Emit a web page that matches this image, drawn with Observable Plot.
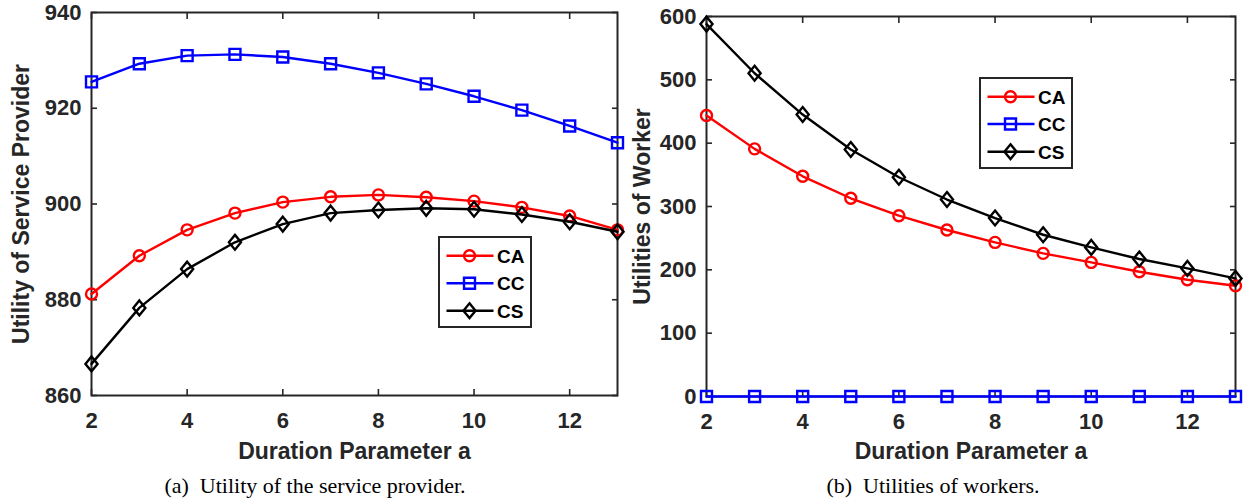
<!DOCTYPE html>
<html><head><meta charset="utf-8">
<script src="https://cdn.jsdelivr.net/npm/d3@7"></script>
<script src="https://cdn.jsdelivr.net/npm/@observablehq/plot@0.6"></script>
<style>
html,body{margin:0;padding:0;background:#fff;}
#wrap{position:relative;width:1247px;height:503px;overflow:hidden;background:#fff;}
.panel{position:absolute;top:0;}
.caption{position:absolute;font-family:'Liberation Serif','Times New Roman',serif;font-size:22px;color:#000;white-space:pre;transform:translate(-50%,-50%);}
.legend{position:absolute;}
</style></head><body><div id="wrap"></div>
<script>
// ---- data ----
const durations = [2, 3, 4, 5, 6, 7, 8, 9, 10, 11, 12, 13];
const seriesNames = ["CA", "CC", "CS"];
const seriesColors = ["#ff0000", "#0000ff", "#000000"];

const providerCA = [881.2, 889.2, 894.6, 898.1, 900.4, 901.5, 901.9, 901.4, 900.6, 899.3, 897.5, 894.6];
const providerCC = [925.5, 929.3, 931.0, 931.25, 930.7, 929.3, 927.4, 925.1, 922.5, 919.6, 916.3, 912.8];
const providerCS = [866.6, 878.3, 886.4, 892.0, 895.8, 898.1, 898.75, 899.1, 898.9, 897.8, 896.3, 894.2];

const workerCA = [443.6, 391.0, 347.7, 313.0, 285.5, 262.9, 243.3, 226.0, 211.7, 197.0, 184.4, 174.9];
const workerCC = [0, 0, 0, 0, 0, 0, 0, 0, 0, 0, 0, 0];
const workerCS = [588.0, 510.4, 445.2, 390.0, 346.2, 311.0, 281.8, 255.4, 235.4, 217.1, 202.2, 186.4];

const xTicks = [2, 4, 6, 8, 10, 12];
const providerTicks = [860, 880, 900, 920, 940];
const workerTicks = [0, 100, 200, 300, 400, 500, 600];

const xLabel = "Duration Parameter a";
const providerYLabel = "Utility of Service Provider";
const workerYLabel = "Utilities of Worker";
const captionA = "(a)  Utility of the service provider.";
const captionB = "(b)  Utilities of workers.";

// ---- helpers ----
const TXT = "#262626";
const FONT = "'Liberation Sans', Arial, Helvetica, sans-serif";
const LW = 2.4;

const diamond = {
  draw(ctx, size) {
    const r = Math.sqrt(size / Math.PI);
    ctx.moveTo(0, -r * 1.35);
    ctx.lineTo(r * 1.1, 0);
    ctx.lineTo(0, r * 1.35);
    ctx.lineTo(-r * 1.1, 0);
    ctx.closePath();
  }
};
const symbols = ["circle", "square", diamond];
const symbolR = [5.5, 6.2, 5.5];

function rowsOf(valuesList) {
  const rows = [];
  valuesList.forEach((vals, si) => {
    vals.forEach((v, i) => rows.push({a: durations[i], v, s: seriesNames[si]}));
  });
  return rows;
}

function panel({values, yDomain, yTicks, yLabel, width, mL, mR, mT, mB, yLabelDx, xLabelDy}) {
  const rows = rowsOf(values);
  const marks = [
    Plot.frame({stroke: TXT, strokeWidth: 2}),
    // inward ticks on all four sides
    Plot.axisX(xTicks, {anchor: "bottom", tickSize: -6, tickFormat: () => "", label: null, stroke: TXT, strokeWidth: 1.6}),
    Plot.axisX(xTicks, {anchor: "top", tickSize: -6, tickFormat: () => "", label: null, stroke: TXT, strokeWidth: 1.6}),
    Plot.axisY(yTicks, {anchor: "left", tickSize: -6, tickFormat: () => "", label: null, stroke: TXT, strokeWidth: 1.6}),
    Plot.axisY(yTicks, {anchor: "right", tickSize: -6, tickFormat: () => "", label: null, stroke: TXT, strokeWidth: 1.6}),
    // tick labels
    Plot.axisX(xTicks, {anchor: "bottom", tickSize: 0, tickPadding: 17, label: null, fontSize: 22, fontWeight: "bold", fill: TXT}),
    Plot.axisY(yTicks, {anchor: "left", tickSize: 0, tickPadding: 10, label: null, fontSize: 22, fontWeight: "bold", fill: TXT}),
    // axis titles
    Plot.text([xLabel], {frameAnchor: "bottom", dy: xLabelDy, text: d => d, lineAnchor: "middle", fontSize: 23, fontWeight: "bold", fill: TXT}),
    Plot.text([yLabel], {frameAnchor: "left", dx: yLabelDx, rotate: -90, text: d => d, lineAnchor: "middle", textAnchor: "middle", fontSize: 23, fontWeight: "bold", fill: TXT})
  ];
  seriesNames.forEach((name, si) => {
    const data = rows.filter(d => d.s === name);
    marks.push(Plot.line(data, {x: "a", y: "v", stroke: seriesColors[si], strokeWidth: LW}));
    marks.push(Plot.dot(data, {x: "a", y: "v", stroke: seriesColors[si], fill: "none", strokeWidth: LW, symbol: () => symbols[si], r: symbolR[si]}));
  });
  return Plot.plot({
    width, height: 465,
    marginLeft: mL, marginRight: mR, marginTop: mT, marginBottom: mB,
    x: {domain: [2, 13], axis: null},
    y: {domain: yDomain, axis: null},
    symbol: {type: "identity"},
    style: {fontFamily: FONT, fontWeight: "bold", fontSize: "22px", color: TXT, background: "transparent", overflow: "visible"},
    marks
  });
}

function legend(left, top, rowsY) {
  const w = 94, h = 92;
  const svg = d3.create("svg").attr("width", w).attr("height", h)
    .attr("class", "legend").style("left", left + "px").style("top", top + "px").style("overflow", "visible");
  svg.append("rect").attr("x", 1).attr("y", 1).attr("width", w - 2).attr("height", h - 2)
    .attr("fill", "#fff").attr("stroke", TXT).attr("stroke-width", 2);
  seriesNames.forEach((name, si) => {
    const y = rowsY[si];
    const c = seriesColors[si];
    svg.append("line").attr("x1", 8.5).attr("x2", 55.5).attr("y1", y).attr("y2", y)
      .attr("stroke", c).attr("stroke-width", LW);
    const r = symbolR[si];
    const size = Math.PI * r * r;
    const sym = si === 0 ? d3.symbolCircle : si === 1 ? d3.symbolSquare : diamond;
    svg.append("path").attr("d", d3.symbol(sym, size)()).attr("transform", `translate(31.5,${y})`)
      .attr("fill", "none").attr("stroke", c).attr("stroke-width", LW);
    svg.append("text").attr("x", 59).attr("y", y).attr("dy", "0.36em").text(name)
      .attr("font-family", FONT).attr("font-weight", "bold").attr("font-size", 19).attr("fill", "#000");
  });
  return svg.node();
}

const wrap = document.getElementById("wrap");

const left = panel({
  values: [providerCA, providerCC, providerCS], yDomain: [860, 940], yTicks: providerTicks, yLabel: providerYLabel,
  width: 640, mL: 91, mR: 23, mT: 12, mB: 70, yLabelDx: -70, xLabelDy: 56
});
left.classList.add("panel"); left.style.left = "0px";
wrap.appendChild(left);

const right = panel({
  values: [workerCA, workerCC, workerCS], yDomain: [0, 600], yTicks: workerTicks, yLabel: workerYLabel,
  width: 627, mL: 86, mR: 12, mT: 16, mB: 69, yLabelDx: -64, xLabelDy: 55
});
right.classList.add("panel"); right.style.left = "620px";
wrap.appendChild(right);

wrap.appendChild(legend(437.5, 236, [19.7, 47.3, 74.7]));
wrap.appendChild(legend(979, 77, [19.7, 47, 74.7]));

function caption(text, cx, cy) {
  const d = document.createElement("div");
  d.className = "caption"; d.textContent = text;
  d.style.left = cx + "px"; d.style.top = cy + "px";
  wrap.appendChild(d);
}
caption(captionA, 315, 486);
caption(captionB, 933, 486);
</script>
</body></html>
